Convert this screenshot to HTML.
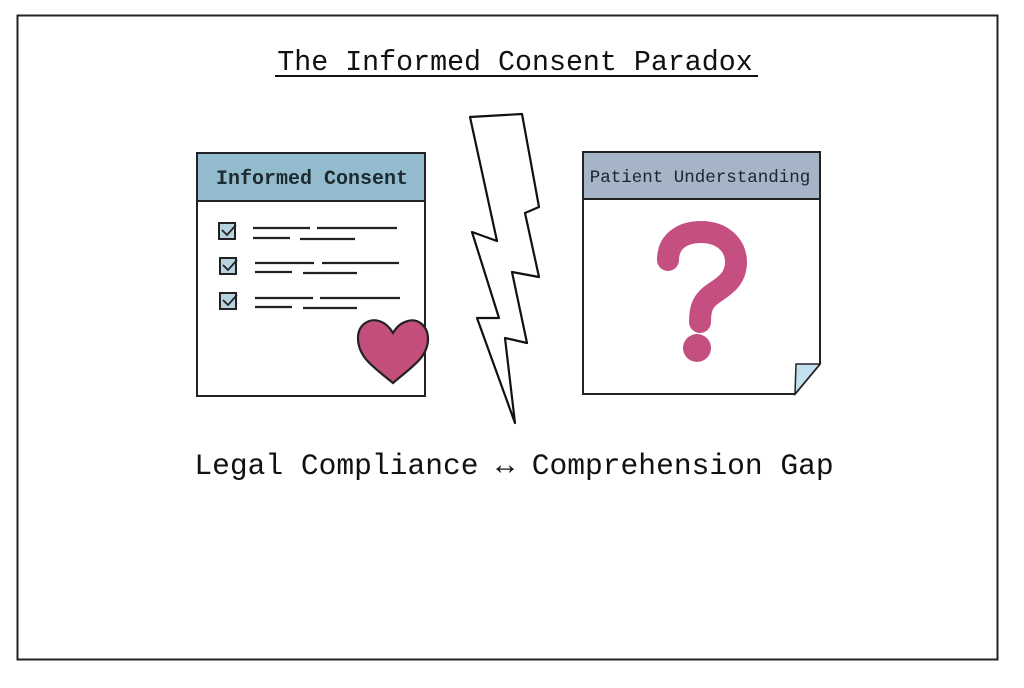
<!DOCTYPE html>
<html><head><meta charset="utf-8"><style>
body{margin:0;background:#fff;width:1024px;height:683px;overflow:hidden}
</style></head><body>
<svg width="1024" height="683" viewBox="0 0 1024 683" xmlns="http://www.w3.org/2000/svg">
<rect x="17.5" y="15.5" width="980" height="644" fill="#fff" stroke="#222" stroke-width="2"/>
<text x="515" y="70" text-anchor="middle" font-family="Liberation Mono, monospace" font-size="28.3" fill="#111">The Informed Consent Paradox</text>
<line x1="275" y1="76" x2="758" y2="76" stroke="#111" stroke-width="2"/>
<!-- left doc -->
<rect x="197" y="153" width="228" height="48" fill="#92bccd"/>
<path d="M197 153 H425 V396 H197 Z" fill="none" stroke="#222" stroke-width="2"/>
<line x1="197" y1="201" x2="425" y2="201" stroke="#222" stroke-width="2"/>
<text x="312" y="184" text-anchor="middle" font-family="Liberation Mono, monospace" font-weight="bold" font-size="20" fill="#1d2a30">Informed Consent</text>
<g stroke="#222" stroke-width="2" fill="#b9d3de">
<rect x="219" y="223" width="16" height="16"/><rect x="220" y="258" width="16" height="16"/><rect x="220" y="293" width="16" height="16"/>
</g>
<g stroke="#222" stroke-width="1.8" fill="none">
<path d="M222 230l5 5 9-10M223 265l5 5 9-10M223 300l5 5 9-10"/>
</g>
<g stroke="#222" stroke-width="2.2">
<line x1="253" y1="228" x2="310" y2="228"/><line x1="317" y1="228" x2="397" y2="228"/>
<line x1="253" y1="238" x2="290" y2="238"/><line x1="300" y1="239" x2="355" y2="239"/>
<line x1="255" y1="263" x2="314" y2="263"/><line x1="322" y1="263" x2="399" y2="263"/>
<line x1="255" y1="272" x2="292" y2="272"/><line x1="303" y1="273" x2="357" y2="273"/>
<line x1="255" y1="298" x2="313" y2="298"/><line x1="320" y1="298" x2="400" y2="298"/>
<line x1="255" y1="307" x2="292" y2="307"/><line x1="303" y1="308" x2="357" y2="308"/>
</g>
<path d="M393 383 C375 368 358 358 358 338 C358 324 370 318 379 321 C386 323 390 328 393 333 C396 328 400 323 408 321 C418 318 428 326 428 339 C428 358 410 368 393 383 Z" fill="#c54f7c" stroke="#222" stroke-width="2.2"/>
<!-- bolt -->
<polygon points="470,117 522,114 539,207 525,213 539,277 512,272 527,343 505,338 515,423 477,318 499,318 472,232 497,241" fill="#fff" stroke="#111" stroke-width="2.2" stroke-linejoin="round"/>
<!-- right doc -->
<rect x="583" y="152" width="237" height="47" fill="#a6b4c8"/>
<path d="M583 152 H820 V364 L795 394 H583 Z" fill="none" stroke="#222" stroke-width="2"/>
<line x1="583" y1="199" x2="820" y2="199" stroke="#222" stroke-width="2"/>
<path d="M795 394 L796 364 L820 364 Z" fill="#c3dff0" stroke="#222" stroke-width="1.5"/>
<text x="700" y="182" text-anchor="middle" font-family="Liberation Mono, monospace" font-size="17.5" fill="#1d2430">Patient Understanding</text>
<path d="M668 260 C668 240 684 232 701 232 C722 232 736 245 736 262 C736 282 720 288 710 296 C703 302 700 308 700 322" fill="none" stroke="#c44f80" stroke-width="22" stroke-linecap="round"/>
<circle cx="697" cy="348" r="14" fill="#c44f80"/>
<text x="514" y="474" text-anchor="middle" font-family="Liberation Mono, monospace" font-size="29.6" fill="#111">Legal Compliance ↔ Comprehension Gap</text>
</svg>
</body></html>
